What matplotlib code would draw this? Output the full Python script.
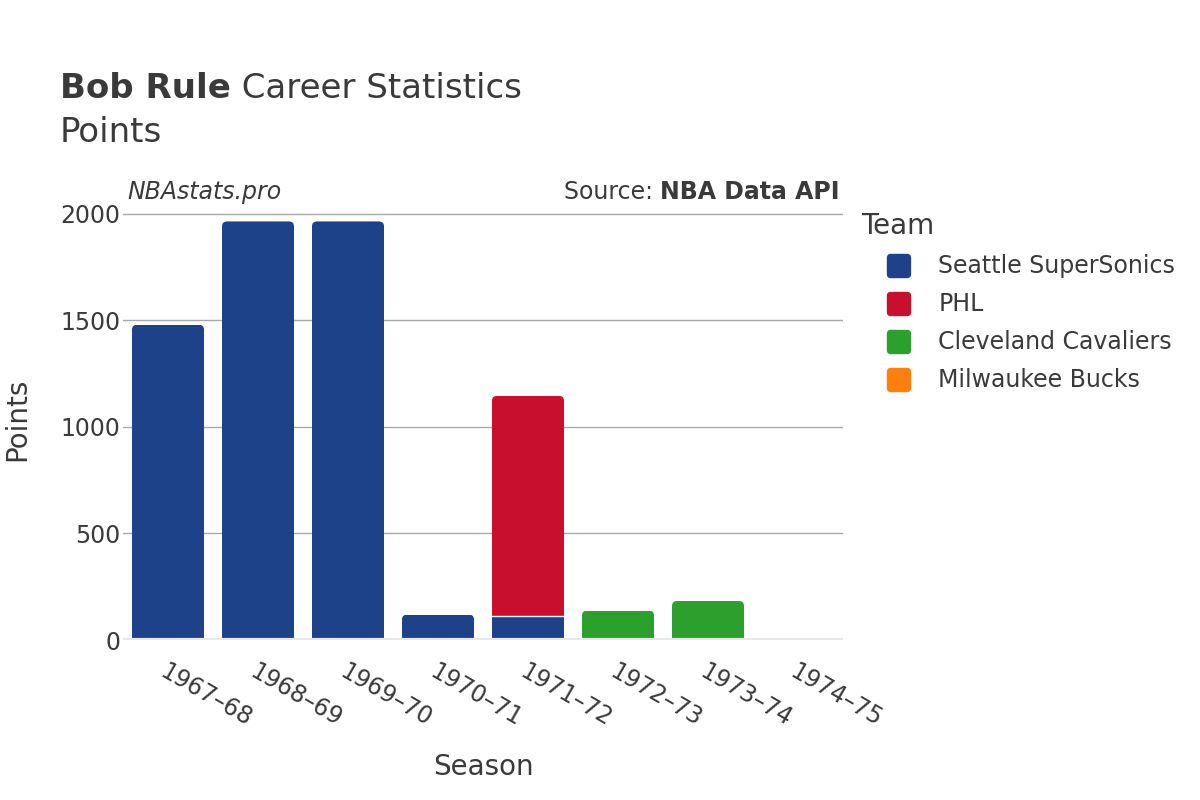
import numpy as np
import matplotlib.pyplot as plt
from matplotlib.patches import FancyBboxPatch, Rectangle

seasons = ["1967–68", "1968–69", "1969–70", "1970–71",
           "1971–72", "1972–73", "1973–74", "1974–75"]
teams = ["Seattle SuperSonics", "PHL", "Cleveland Cavaliers", "Milwaukee Bucks"]
team_colors = ["#1d4289", "#c8102e", "#2ca02c", "#ff7f0e"]

seattle = [1480, 1965, 1965, 119, 113, 0, 0, 0]
phl = [0, 0, 0, 0, 1033, 0, 0, 0]
cleveland = [0, 0, 0, 0, 0, 138, 183, 0]
milwaukee = [0, 0, 0, 0, 0, 0, 0, 4]

series = [seattle, phl, cleveland, milwaukee]
text_color = "#3a3a3a"

fig = plt.figure(figsize=(12, 8), dpi=100)
ax = fig.add_axes([0.1025, 0.2, 0.6, 0.5525])
ymax = 2075
ax.set_xlim(-0.5, len(seasons) - 0.5)
ax.set_ylim(0, ymax)

# pixel -> data conversions for rounded corners
px_x = len(seasons) / 720.0
px_y = ymax / 442.0
radius = 5

width = 0.8
x = np.arange(len(seasons))
bottom = np.zeros(len(seasons))
top_idx = [max(i for i, s in enumerate(series) if s[k] > 0) for k in range(len(seasons))]

for si, (vals, color) in enumerate(zip(series, team_colors)):
    for k in range(len(seasons)):
        v = vals[k]
        if v <= 0:
            continue
        x0 = x[k] - width / 2
        y0 = bottom[k]
        if si == top_idx[k] and v / px_y > 2 * radius:
            r = radius * px_x
            ry = radius * px_y
            patch = FancyBboxPatch((x0 + r, y0), width - 2 * r, v - ry,
                                   boxstyle=f"round,pad={r}",
                                   mutation_aspect=px_y / px_x,
                                   fc=color, ec="none", zorder=3)
            clip = Rectangle((x0, y0), width, v, transform=ax.transData)
            ax.add_patch(patch)
            patch.set_clip_path(clip)
            # flat bottom under rounded part
            ax.add_patch(Rectangle((x0, y0), width, ry * 2, fc=color, ec="none", zorder=3))
        else:
            ax.add_patch(Rectangle((x0, y0), width, v, fc=color, ec="none", zorder=3))
        if y0 > 0:
            ax.plot([x0, x0 + width], [y0, y0], color="white", lw=1, zorder=3.5)
        bottom[k] += v

ax.set_yticks([0, 500, 1000, 1500, 2000])
ax.set_yticklabels(["0", "500", "1000", "1500", "2000"])
ax.grid(axis="y", color="#a8a8a8", lw=1, zorder=0)
ax.axhline(0, color="#e8e8e8", lw=3, zorder=4)
for sp in ax.spines.values():
    sp.set_visible(False)
ax.tick_params(axis="both", length=0, labelsize=17, colors=text_color)
ax.tick_params(axis="y", pad=2)
ax.set_xticks(x)
ax.set_xticklabels(seasons, rotation=-30, ha="left", rotation_mode="anchor")
ax.tick_params(axis="x", pad=14)
ax.set_xlabel("Season", fontsize=20, color=text_color, labelpad=16)
ax.set_ylabel("Points", fontsize=20, color=text_color)
ax.yaxis.set_label_coords(-0.128, 0.5)

renderer = fig.canvas.get_renderer()


def text_run(xf, yf, parts, ha="left", **kw):
    # draw pieces of text side by side starting at xf (or ending at xf)
    artists = []
    for s, weight, style in parts:
        t = fig.text(xf, yf, s, fontweight=weight, style=style, va="center", **kw)
        artists.append(t)
    widths = [a.get_window_extent(renderer).width / fig.bbox.width for a in artists]
    start = xf if ha == "left" else xf - sum(widths)
    for a, w in zip(artists, widths):
        a.set_x(start)
        start += w


text_run(0.05, 0.889, [("Bob Rule", "bold", "normal"),
                       (" Career Statistics", "normal", "normal")],
         fontsize=24.5, color=text_color)
fig.text(0.05, 0.834, "Points", fontsize=24.5, color=text_color, va="center")

fig.text(0.106, 0.76, "NBAstats.pro", fontsize=17, style="italic",
         color=text_color, va="center")
text_run(0.7, 0.76, [("Source: ", "normal", "normal"),
                     ("NBA Data API", "bold", "normal")],
         ha="right", fontsize=17, color=text_color)

# legend
fig.text(0.718, 0.717, "Team", fontsize=20, color=text_color, va="center")
for i, (name, color) in enumerate(zip(teams, team_colors)):
    yc = 1 - (266 + 38 * i) / 800
    fig.patches.append(FancyBboxPatch((0.7400 + 0.0025, yc - 0.0135 + 0.0035),
                                      0.0183 - 0.005, 0.027 - 0.007,
                                      boxstyle="round,pad=0.0035",
                                      transform=fig.transFigure, fc=color,
                                      ec="none", mutation_aspect=1.5))
    fig.text(0.782, yc, name, fontsize=17, color=text_color, va="center")

fig.savefig("out.png", dpi=100)
